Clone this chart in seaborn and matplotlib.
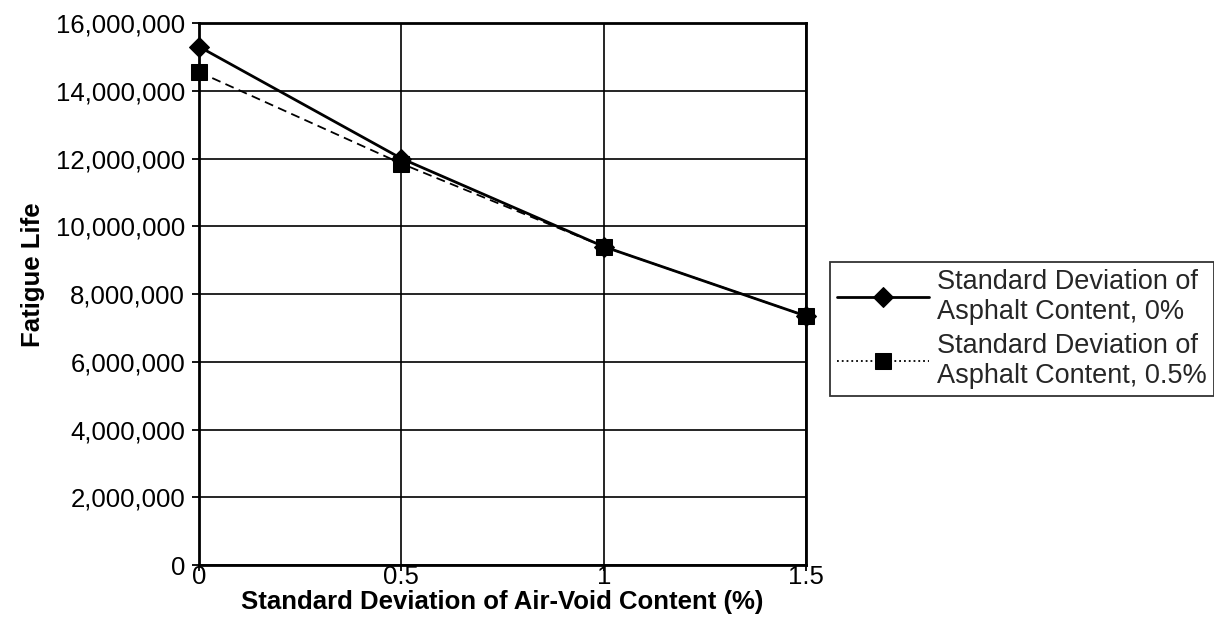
import matplotlib
matplotlib.use("Agg")
import matplotlib.pyplot as plt
from matplotlib.ticker import FuncFormatter
import seaborn as sns
import pandas as pd

# values
air_void_sd = [0, 0.5, 1, 1.5]
life_ac_0 = [15300000, 12000000, 9400000, 7350000]
life_ac_05 = [14550000, 11850000, 9400000, 7350000]
series_names = ["Standard Deviation of\nAsphalt Content, 0%",
                "Standard Deviation of\nAsphalt Content, 0.5%"]
x_ticks = [0, 0.5, 1, 1.5]
y_ticks = list(range(0, 16000001, 2000000))

sns.set_theme(style="white")
plt.rcParams['font.family'] = ['Liberation Sans', 'DejaVu Sans']

fig = plt.figure(figsize=(12.14, 6.21), dpi=100)
ax = fig.add_axes([0.164, 0.090, 0.500, 0.873])

df1 = pd.DataFrame({"x": air_void_sd, "y": life_ac_0})
df2 = pd.DataFrame({"x": air_void_sd, "y": life_ac_05})

sns.lineplot(data=df2, x="x", y="y", ax=ax, color="black", linewidth=1.3,
             linestyle=(0, (5, 3)), marker="s", markersize=11,
             markeredgecolor="black", label=series_names[1], clip_on=False, zorder=3)
sns.lineplot(data=df1, x="x", y="y", ax=ax, color="black", linewidth=2,
             marker="D", markersize=10, markeredgecolor="black",
             label=series_names[0], clip_on=False, zorder=4)

ax.set_xlim(0, 1.5)
ax.set_ylim(0, 16000000)
ax.set_xticks(x_ticks)
ax.set_xticklabels(["0", "0.5", "1", "1.5"])
ax.set_yticks(y_ticks)
ax.yaxis.set_major_formatter(FuncFormatter(lambda v, p: f"{int(v):,}"))
ax.grid(True, color="black", linewidth=1.2)
ax.set_axisbelow(True)
for s in ax.spines.values():
    s.set_color("black")
    s.set_linewidth(2)
ax.tick_params(axis="both", which="major", direction="out", length=5,
               width=1.3, color="black", labelsize=18.5, labelcolor="black",
               left=True, bottom=True)
ax.tick_params(axis="x", length=4, pad=-4)
ax.tick_params(axis="y", pad=5)

ax.set_xlabel("Standard Deviation of Air-Void Content (%)", fontsize=18.5,
              fontweight="bold", color="black", labelpad=1)
ax.set_ylabel("Fatigue Life", fontsize=18.5, fontweight="bold", color="black")
ax.yaxis.set_label_coords(-0.254, 0.535)

handles, labels = ax.get_legend_handles_labels()
leg = ax.legend(handles[::-1], labels[::-1], loc="upper left",
                bbox_to_anchor=(0.684, 0.578), bbox_transform=fig.transFigure,
                fontsize=19.5, frameon=True, fancybox=False, edgecolor="black",
                handlelength=3.4, handletextpad=0.3, borderpad=0.25,
                labelspacing=0.3, borderaxespad=0)
leg.get_frame().set_linewidth(1.3)
leg.get_lines()[1].set_linestyle(":")

fig.savefig("out.png", dpi=100)
